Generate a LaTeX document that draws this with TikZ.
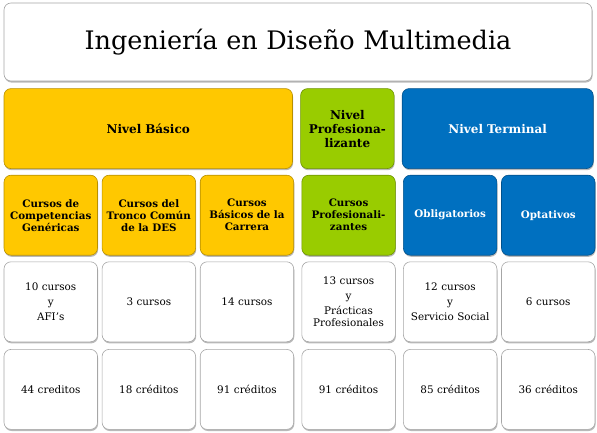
\documentclass[tikz,border=0pt]{standalone}
\usepackage{fontspec}
\setmainfont{DejaVu Serif}
\usetikzlibrary{positioning,shadows}
\definecolor{dmGold}{HTML}{FFC800}
\definecolor{dmGoldD}{HTML}{B89000}
\definecolor{dmGreen}{HTML}{99CC00}
\definecolor{dmGreenD}{HTML}{6E9400}
\definecolor{dmBlue}{HTML}{0070C0}
\definecolor{dmBlueD}{HTML}{00518C}
\definecolor{dmLine}{HTML}{A6A6A6}
\definecolor{dmShade}{HTML}{808080}
\tikzset{
  dm-box/.style={
    draw=dmLine, line width=0.6pt, rounded corners=7pt,
    fill=white, align=center, inner sep=2pt,
    minimum width=93.5pt, minimum height=80pt, text width=86pt,
    font=\fontsize{10.4}{12}\selectfont,
    drop shadow={shadow xshift=0.6pt, shadow yshift=-1.6pt,
      fill=dmShade, opacity=0.55}
  },
  dm-gold/.style={dm-box, draw=dmGoldD, fill=dmGold},
  dm-green/.style={dm-box, draw=dmGreenD, fill=dmGreen},
  dm-blue/.style={dm-box, draw=dmBlueD, fill=dmBlue, text=white},
  dm-level/.style={font=\fontsize{12}{14}\selectfont\bfseries},
  dm-sub/.style={font=\fontsize{10.3}{12}\selectfont\bfseries},
  dm-title/.style={dm-box, minimum width=588pt, minimum height=78pt,
    text width=570pt, font=\fontsize{25.5}{30}\selectfont}
}

\begin{document}
\begin{tikzpicture}[x=1pt, y=1pt, node distance=4pt]
\useasboundingbox (0,0) rectangle (597,-433);

\node[dm-title] (title) at (298,-42) {Ingeniería en Diseño Multimedia};

% niveles
\node[dm-gold, dm-level, minimum width=288.5pt, text width=270pt,
  below right=7pt and 0pt of title.south west, anchor=north west]
  (basico) {Nivel Básico};
\node[dm-green, dm-level, right=7.5pt of basico] (prof)
  {Nivel\\Profesiona-\\lizante};
\node[dm-blue, dm-level, minimum width=191pt, text width=170pt,
  right=7.5pt of prof] (terminal) {Nivel Terminal};

% tipos de cursos
\node[dm-gold, dm-sub, below=6pt of basico.south west, anchor=north west]
  (gen) {Cursos de\\Competencias\\Genéricas};
\node[dm-gold, dm-sub, right=of gen] (tronco)
  {Cursos del\\Tronco Común\\de la DES};
\node[dm-gold, dm-sub, right=of tronco] (carrera)
  {Cursos\\Básicos de la\\Carrera};
\node[dm-green, dm-sub, right=7.5pt of carrera] (profcur)
  {Cursos\\Profesionali-\\zantes};
\node[dm-blue, dm-sub, right=7.5pt of profcur] (oblig) {Obligatorios};
\node[dm-blue, dm-sub, right=of oblig] (opt) {Optativos};

% cursos
\node[dm-box, below=6pt of gen] (gen-c) {10 cursos\\[3pt]y\\[3pt]AFI's};
\node[dm-box, below=6pt of tronco] (tronco-c) {3 cursos};
\node[dm-box, below=6pt of carrera] (carrera-c) {14 cursos};
\node[dm-box, below=6pt of profcur] (profcur-c)
  {13 cursos\\[3pt]y\\[3pt]Prácticas\\Profesionales};
\node[dm-box, below=6pt of oblig] (oblig-c)
  {12 cursos\\[3pt]y\\[3pt]Servicio Social};
\node[dm-box, below=6pt of opt] (opt-c) {6 cursos};

% creditos
\node[dm-box, below=7pt of gen-c] (gen-k) {44 creditos};
\node[dm-box, below=7pt of tronco-c] (tronco-k) {18 créditos};
\node[dm-box, below=7pt of carrera-c] (carrera-k) {91 créditos};
\node[dm-box, below=7pt of profcur-c] (profcur-k) {91 créditos};
\node[dm-box, below=7pt of oblig-c] (oblig-k) {85 créditos};
\node[dm-box, below=7pt of opt-c] (opt-k) {36 créditos};
\end{tikzpicture}
\end{document}
